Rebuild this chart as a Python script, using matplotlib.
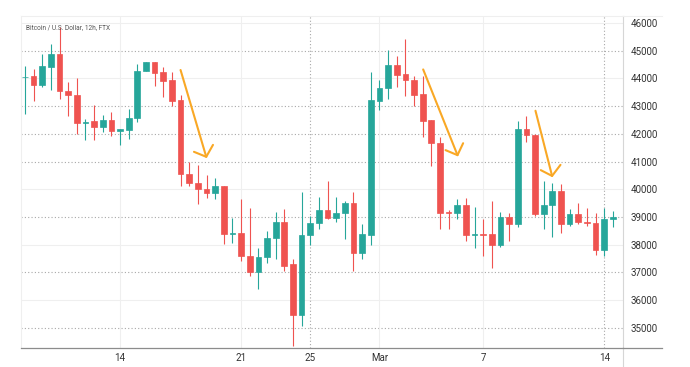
import matplotlib
matplotlib.use("Agg")
import matplotlib.pyplot as plt
from matplotlib.lines import Line2D

# BTC/USD 12h candles
opens = [44030, 44070, 43770, 44420, 44880, 43560, 43400, 42400, 42450, 42250,
         42500, 42110, 42150, 42570, 44280, 44580, 44240, 43940, 43220, 40540,
         40220, 40000, 39870, 40120, 38370, 38410, 37610, 37020, 37540, 38240,
         38830, 37290, 35460, 38340, 38770, 39240, 38950, 39130, 39520, 37710,
         38340, 43190, 43640, 44480, 44160, 43940, 43430, 42490, 41660, 39180,
         39160, 39420, 38350, 38400, 38370, 37980, 38990, 38760, 42170, 41970,
         39120, 39420, 39920, 38760, 39100, 38820, 38770, 37800, 38920]
highs = [44460, 44340, 44880, 45240, 45850, 43860, 44000, 42530, 43040, 42680,
         42800, 42190, 42890, 44500, 44580, 44600, 44400, 44220, 43400, 41000,
         40880, 40520, 40390, 40130, 38980, 39640, 39340, 37890, 38500, 39180,
         39300, 37470, 39900, 39040, 39720, 40300, 39720, 39580, 39900, 38740,
         44240, 43940, 45030, 44820, 45420, 44070, 44100, 42500, 41870, 39250,
         39640, 39700, 39370, 38920, 39580, 39180, 39160, 42470, 42650, 41990,
         40300, 40240, 40180, 39300, 39520, 39340, 39160, 39310, 39220]
lows = [42710, 43190, 43680, 43590, 43250, 42650, 41990, 41780, 41780, 42080,
        41930, 41590, 41830, 42410, 44250, 43740, 43340, 42990, 40120, 40120,
        39480, 39680, 39660, 38010, 38070, 37410, 36870, 36390, 37330, 37490,
        37070, 34340, 35060, 37980, 38560, 38920, 38820, 38220, 37050, 37490,
        37980, 42870, 43250, 43700, 43350, 42990, 41870, 40840, 38580, 38580,
        38920, 38130, 37890, 37590, 37170, 37920, 38130, 38650, 41710, 39040,
        38560, 38280, 38430, 38680, 38740, 38680, 37630, 37590, 38650]
closes = [44060, 43770, 44440, 44880, 43530, 43410, 42400, 42440, 42250, 42480,
          42100, 42160, 42570, 44250, 44580, 44190, 43920, 43190, 40540, 40210,
          40010, 39870, 40120, 38370, 38410, 37590, 37020, 37540, 38250, 38830,
          37250, 35460, 38340, 38770, 39240, 38950, 39130, 39520, 37710, 38370,
          43220, 43650, 44480, 44130, 43940, 43410, 42470, 41680, 39160, 39140,
          39420, 38350, 38390, 38350, 37990, 38990, 38760, 42170, 41970, 39120,
          39420, 39920, 38760, 39100, 38830, 38780, 37800, 38920, 39010]

# date ticks (candle index of each label)
tick_pos = [11, 25, 33, 41, 53, 67]
tick_labels = ["14", "21", "25", "Mar", "7", "14"]
price_ticks = list(range(35000, 46001, 1000))

# hand-drawn arrows: shaft start, shaft end, head left, head right
arrows = [
    ((18.0, 44300), (20.97, 41170), (19.55, 41350), (21.75, 41600)),
    ((46.06, 44320), (50.03, 41230), (48.65, 41410), (50.68, 41660)),
    ((59.05, 42830), (60.97, 40480), (59.66, 40690), (61.94, 40880)),
]

UP = "#26a69a"
DOWN = "#ef5350"
ORANGE = "#f9a825"

fig = plt.figure(figsize=(6.9, 3.67), dpi=100)
ax = fig.add_axes([0.030, 0.052, 0.873, 0.905])

# grid
dotted_lvls = [35000, 37000, 39000, 41000, 42000, 43000, 45000]
for p in price_ticks:
    if p in dotted_lvls:
        ax.axhline(p, color="#a8a8a8", lw=0.8, ls=(0, (1, 2)), zorder=0)
    else:
        ax.axhline(p, color="#efefef", lw=0.8, zorder=0)
for i, t in enumerate(tick_pos):
    if i in (2, 5):
        ax.axvline(t, color="#a8a8a8", lw=0.8, ls=(0, (1, 2)), zorder=0)
    else:
        ax.axvline(t, color="#efefef", lw=0.8, zorder=0)

# candles
xs = list(range(len(opens)))
cols = [UP if c >= o else DOWN for o, c in zip(opens, closes)]
ax.vlines(xs, lows, highs, colors=cols, lw=0.8, zorder=2)
ax.bar(xs, [c - o for o, c in zip(opens, closes)], bottom=opens, width=0.66,
       color=cols, edgecolor=cols, linewidth=0.5, zorder=3)

for start, end, hl, hr in arrows:
    ax.plot([start[0], end[0]], [start[1], end[1]], color=ORANGE, lw=1.5,
            solid_capstyle="round", zorder=4)
    ax.plot([hl[0], end[0], hr[0]], [hl[1], end[1], hr[1]], color=ORANGE,
            lw=1.5, solid_capstyle="round", solid_joinstyle="round", zorder=4)

ax.set_xlim(-0.49, 69.18)
ax.set_ylim(34279, 46255)

ax.set_xticks(tick_pos)
ax.set_xticklabels(tick_labels)
ax.set_yticks(price_ticks)
ax.set_yticklabels([str(p) for p in price_ticks])
ax.yaxis.tick_right()
ax.tick_params(axis="y", length=0, pad=5.5, labelsize=7, labelcolor="#333333")
ax.tick_params(axis="x", length=0, pad=3.5, labelsize=7, labelcolor="#333333")
for lab in ax.get_xticklabels() + ax.get_yticklabels():
    lab.set_family("Roboto")

for s in ("left", "top"):
    ax.spines[s].set_color("#efefef")
    ax.spines[s].set_linewidth(0.8)
ax.spines["right"].set_color("#d6d6d6")
ax.spines["right"].set_linewidth(0.8)
ax.spines["bottom"].set_color("#8c8c8c")
ax.spines["bottom"].set_linewidth(0.9)

# price scale border and time axis line running into the scale area
fig.add_artist(Line2D([0.903, 0.903], [0.0, 0.052], color="#d6d6d6", lw=0.8))
fig.add_artist(Line2D([0.903, 0.959], [0.052, 0.052], color="#8c8c8c", lw=0.9))
fig.add_artist(Line2D([0.903, 0.959], [0.957, 0.957], color="#efefef", lw=0.8))

ax.text(0.008, 0.975, "Bitcoin / U.S. Dollar, 12h, FTX", transform=ax.transAxes,
        fontsize=4.7, color="#555555", family="Roboto", va="top", ha="left")

fig.savefig("out.png", dpi=100, facecolor="white")
